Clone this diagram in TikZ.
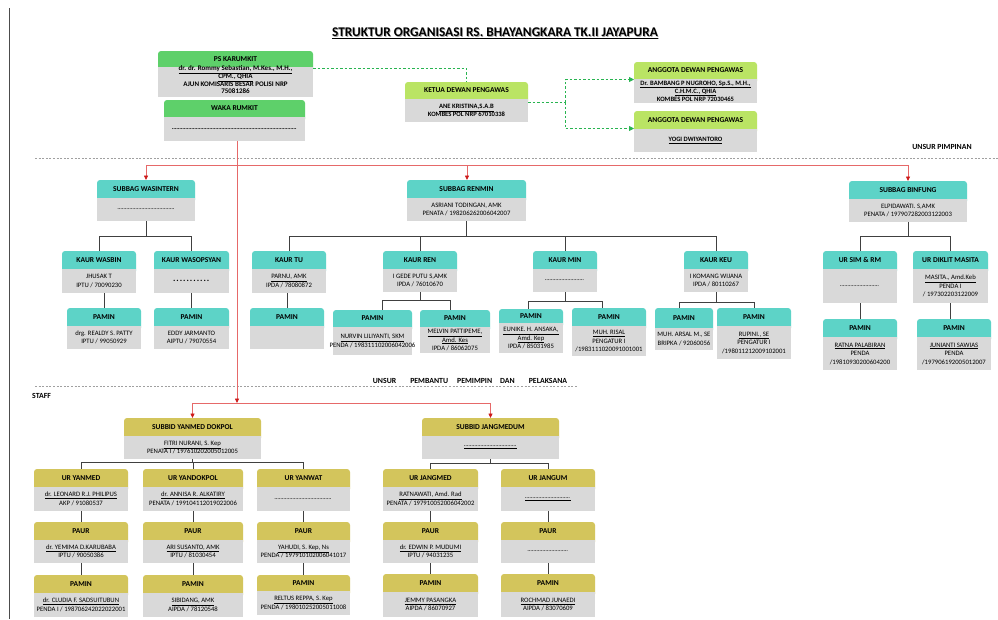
\documentclass[tikz,border=0pt]{standalone}
\usepackage{fontspec}
\setmainfont{Carlito}
\usetikzlibrary{arrows.meta,calc}
\definecolor{greenhdr}{RGB}{94,208,106}
\definecolor{limehdr}{RGB}{186,228,100}
\definecolor{tealhdr}{RGB}{93,211,199}
\definecolor{olivehdr}{RGB}{211,197,92}
\definecolor{bodycol}{RGB}{217,217,217}
\definecolor{conncol}{RGB}{64,64,64}
\definecolor{redcol}{RGB}{230,105,105}
\definecolor{redarr}{RGB}{205,25,25}
\definecolor{gdashcol}{RGB}{40,180,80}
\definecolor{sepcol}{RGB}{160,160,160}
\newcommand\dotsblank[1]{\hbox to #1pt{\leaders\hbox to 1.5pt{\hss.\hss}\hfill}}
\newcommand\bolddots[1]{\hbox to #1pt{\bfseries\fontsize{9}{9}\selectfont\leaders\hbox to 3.4pt{\hss.\hss}\hfill}}
\tikzset{
  boxnode/.style={inner sep=0pt, outer sep=0pt},
  ttl/.style={font=\bfseries\fontsize{7.5}{8}\selectfont, inner sep=0pt},
  bdy/.style={font=\fontsize{6.7}{8.5}\selectfont, align=center, inner sep=0pt},
  conn/.style={draw=conncol, line width=0.9pt},
  redln/.style={draw=redcol, line width=0.8pt, -{Triangle[length=4.5pt,width=4pt,color=redarr]}},
  gdash/.style={draw=gdashcol, line width=0.8pt, dash pattern=on 2.5pt off 2pt},
  garrow/.style={-{Triangle[length=5pt,width=5pt,color=gdashcol]}},
  sepline/.style={draw=sepcol, line width=0.7pt, dash pattern=on 2pt off 1.6pt},
  lbl/.style={font=\bfseries\fontsize{7.8}{9}\selectfont, inner sep=0pt}
}
% name, x, y, width, height, header height, colour, title, body
\newcommand\orgbox[9]{%
  \node[boxnode, minimum width=#4pt, minimum height=#5pt, anchor=north west] (#1) at (#2,#3) {};
  \fill[#7, rounded corners=3pt] (#2,#3) rectangle ({#2+#4},{#3+#6+5});
  \fill[bodycol] (#2,{#3+#6}) rectangle ({#2+#4},{#3+#5});
  \node[ttl] (#1t) at ({#2+#4/2},{#3+#6/2}) {#8};
  \node[bdy] (#1b) at ({#2+#4/2},{#3+(#5+#6)/2}) {#9};
}
\begin{document}
\begin{tikzpicture}[x=1pt,y=-1pt]
\useasboundingbox (0,0) rectangle (998,619);
\fill[white] (0,0) rectangle (998,619);

% left border and separators
\draw[draw=black!70, line width=0.9pt] (9,8) -- (9,619);
\draw[sepline] (35,158) -- (998,158);
\draw[sepline] (35,386) -- (578,386);

% title
\node[font=\bfseries\fontsize{13.3}{15}\selectfont, text=black!35, inner sep=0pt] (titleshadow) at (495.8,33.8) {\underline{STRUKTUR ORGANISASI RS. BHAYANGKARA TK.II JAYAPURA}};
\node[font=\bfseries\fontsize{13.3}{15}\selectfont, inner sep=0pt] (title) at (495,33) {\underline{STRUKTUR ORGANISASI RS. BHAYANGKARA TK.II JAYAPURA}};

\node[lbl] (unsurpimpinan) at (942,147) {UNSUR PIMPINAN};
\node[lbl] (unsurpembantu) at (470,381) {UNSUR\hspace{14pt}PEMBANTU\hspace{9pt}PEMIMPIN\hspace{8pt}DAN\hspace{14pt}PELAKSANA};
\node[lbl, anchor=west] (staff) at (32,396) {STAFF};

% ---------- top boxes ----------
\begin{scope}[bdy/.append style={font=\bfseries\fontsize{6.6}{8}\selectfont}]
\orgbox{ps}{158}{51}{155}{46}{16}{greenhdr}{PS KARUMKIT}{}
\node[bdy, font=\bfseries\fontsize{7}{7.7}\selectfont] (psbody) at (235.5,80) {\underline{dr. dr. Rommy Sebastian, M.Kes., M.H.,}\\\underline{CPM., QHIA}\\AJUN KOMISARIS BESAR POLISI NRP\\75081286};
\orgbox{waka}{164}{100}{141}{41}{17}{greenhdr}{WAKA RUMKIT}{\dotsblank{125}}
\orgbox{ketua}{405}{82}{123}{40}{17}{limehdr}{KETUA DEWAN PENGAWAS}{\underline{ANE KRISTINA,S.A.B}\\KOMBES POL NRP 67010338}
\orgbox{angA}{634}{62}{123}{41}{17}{limehdr}{ANGGOTA DEWAN PENGAWAS}{\underline{Dr. BAMBANG P NUGROHO, Sp.S., M.H.,}\\\underline{C.H.M.C., QHIA}\\KOMBES POL NRP 72030465}
\orgbox{angB}{634}{111}{123}{41}{18}{limehdr}{ANGGOTA DEWAN PENGAWAS}{\underline{YOGI DWIYANTORO}}
\end{scope}

% green dashed links
\draw[gdash] ([yshift=6pt]ps.east) -| (ketua.north);
\coordinate (gj) at (565,102);
\draw[gdash] (ketua.east) -- (gj);
\draw[gdash, garrow] (gj) |- ([yshift=3pt]angA.west);
\draw[gdash, garrow] (gj) |- ([yshift=3pt]angB.west);

% ---------- second level (teal) ----------
\orgbox{wasintern}{97}{180}{98}{41}{18}{tealhdr}{SUBBAG WASINTERN}{\dotsblank{57}}
\orgbox{renmin}{407}{180}{119}{41}{18}{tealhdr}{SUBBAG RENMIN}{ASRIANI TODINGAN, AMK\\PENATA / 198206262006042007}
\orgbox{binfung}{849}{181}{118}{41}{18}{tealhdr}{SUBBAG BINFUNG}{ELPIDAWATI. S,AMK\\PENATA / 197907282003122003}

\orgbox{kwasbin}{62}{251}{74}{42}{18}{tealhdr}{KAUR WASBIN}{JHUSAK T\\IPTU / 70090230}
\orgbox{kwasop}{154}{251}{75}{42}{18}{tealhdr}{KAUR WASOPSYAN}{\bolddots{38}}
\orgbox{ktu}{252}{251}{74}{42}{18}{tealhdr}{KAUR TU}{\underline{PARNU, AMK}\\IPDA / 78080872}
\orgbox{kren}{383}{251}{74}{41}{18}{tealhdr}{KAUR REN}{I GEDE PUTU S,AMK\\IPDA / 76010670}
\orgbox{kmin}{533}{251}{64}{41}{18}{tealhdr}{KAUR MIN}{\dotsblank{40}}
\orgbox{kkeu}{684}{251}{64}{41}{18}{tealhdr}{KAUR KEU}{I KOMANG WIJANA\\IPDA / 80110267}
\orgbox{ursim}{823}{251}{74}{52}{18}{tealhdr}{UR SIM \& RM}{\dotsblank{40}}
\orgbox{urdik}{913}{251}{75}{52}{18}{tealhdr}{UR DIKLIT MASITA}{\underline{MASITA., Amd.Keb}\\PENDA I\\/ 197302203122009}

\orgbox{pwasbin}{67}{308}{74}{41}{18}{tealhdr}{PAMIN}{drg. REALDY S. PATTY\\IPTU / 99050929}
\orgbox{pwasop}{154}{308}{75}{41}{18}{tealhdr}{PAMIN}{EDDY JARMANTO\\AIPTU / 79070554}
\orgbox{ptu}{250}{308}{74}{41}{18}{tealhdr}{PAMIN}{}
\orgbox{pnurvin}{333}{310}{79}{45}{17}{tealhdr}{PAMIN}{\underline{NURVIN LILIYANTI, SKM}\\PENDA / 198311102006042006}
\orgbox{pmelvin}{420}{310}{70}{43}{17}{tealhdr}{PAMIN}{\underline{MELVIN PATTIPEME,}\\\underline{Amd. Kes}\\IPDA / 86062075}
\orgbox{peunike}{499}{309}{64}{44}{14}{tealhdr}{PAMIN}{\underline{EUNIKE. H. ANSAKA,}\\\underline{Amd. Kep}\\IPDA / 85031985}
\orgbox{prisal}{572}{308}{74}{48}{18}{tealhdr}{PAMIN}{\underline{MUH. RISAL}\\PENGATUR I\\/1983111020091001001}
\orgbox{parsal}{655}{308}{58}{42}{20}{tealhdr}{PAMIN}{MUH. ARSAL M., SE\\BRIPKA / 92060056}
\orgbox{prupini}{717}{308}{74}{51}{18}{tealhdr}{PAMIN}{\underline{RUPINI., SE}\\PENGATUR I\\/198011212009102001}
\orgbox{pratna}{823}{319}{74}{51}{18}{tealhdr}{PAMIN}{\underline{RATNA PALABIRAN}\\PENDA\\/19810930200604200}
\orgbox{pjunianti}{917}{319}{74}{51}{18}{tealhdr}{PAMIN}{\underline{JUNIANTI SAWIAS}\\PENDA\\/197906192005012007}

% ---------- staff (olive) ----------
\orgbox{yanmed}{124}{418}{137}{41}{18}{olivehdr}{SUBBID YANMED DOKPOL}{\underline{FITRI NURANI, S. Kep}\\PENATA I / 197610202005012005}
\orgbox{jangmedum}{422}{418}{137}{41}{18}{olivehdr}{SUBBID JANGMEDUM}{\underline{\dotsblank{53}}}

\orgbox{uryanmed}{34}{469}{94}{42}{18}{olivehdr}{UR YANMED}{\underline{dr. LEONARD R.J. PHILIPUS}\\AKP / 91080537}
\orgbox{uryandok}{143}{469}{100}{42}{18}{olivehdr}{UR YANDOKPOL}{\underline{dr. ANNISA R. ALKATIRY}\\PENATA / 199104112019022006}
\orgbox{uryanwat}{257}{469}{93}{42}{18}{olivehdr}{UR YANWAT}{\dotsblank{58}}
\orgbox{urjangmed}{383}{469}{95}{42}{18}{olivehdr}{UR JANGMED}{\underline{RATNAWATI, Amd. Rad}\\PENATA / 197910052006042002}
\orgbox{urjangum}{501}{469}{94}{42}{18}{olivehdr}{UR JANGUM}{\underline{\dotsblank{46}}}

\orgbox{paurA}{34}{522}{94}{41}{18}{olivehdr}{PAUR}{\underline{dr. YEMIMA D.KARUBABA}\\IPTU / 90050386}
\orgbox{paurB}{143}{522}{100}{41}{18}{olivehdr}{PAUR}{\underline{ARI SUSANTO, AMK}\\IPTU / 81030454}
\orgbox{paurC}{257}{522}{93}{41}{18}{olivehdr}{PAUR}{\underline{YAHUDI, S. Kep, Ns}\\PENDA / 197910102006041017}
\orgbox{paurD}{383}{522}{95}{41}{18}{olivehdr}{PAUR}{\underline{dr. EDWIN P. MUDUMI}\\IPTU / 94031235}
\orgbox{paurE}{501}{522}{94}{41}{18}{olivehdr}{PAUR}{\dotsblank{41}}

\orgbox{pmA}{34}{575}{94}{42}{18}{olivehdr}{PAMIN}{\underline{dr. CLUDIA F. SADSUITUBUN}\\PENDA I / 198706242022022001}
\orgbox{pmB}{143}{575}{100}{42}{18}{olivehdr}{PAMIN}{\underline{SIBIDANG, AMK}\\AIPDA / 78120548}
\orgbox{pmC}{257}{575}{93}{40}{16}{olivehdr}{PAMIN}{\underline{RELTUS REPPA, S. Kep}\\PENDA / 198010252005011008}
\orgbox{pmD}{383}{574}{95}{43}{18}{olivehdr}{PAMIN}{\underline{JEMMY PASANGKA}\\AIPDA / 86070927}
\orgbox{pmE}{501}{574}{94}{43}{18}{olivehdr}{PAMIN}{\underline{ROCHMAD JUNAEDI}\\AIPDA / 83070609}

% ---------- connectors ----------
\draw[conn] (wasintern.south) -- ++(0,15) coordinate (bw);
\draw[conn] (bw) -| (kwasbin.north);
\draw[conn] (bw) -| (kwasop.north);
\draw[conn] (pwasbin.north |- kwasbin.south) -- (pwasbin.north);
\draw[conn] (pwasop.north |- kwasop.south) -- (pwasop.north);

\draw[conn] (renmin.south) -- ++(0,15) coordinate (br);
\foreach \c in {ktu,kren,kmin,kkeu} \draw[conn] (br) -| (\c.north);
\draw[conn] (ptu.north |- ktu.south) -- (ptu.north);
\draw[conn] (kren.south) -- ++(0,8) coordinate (bre);
\draw[conn] (bre) -| ([xshift=10pt]pnurvin.north);
\draw[conn] (bre) -| ([xshift=-5pt]pmelvin.north);
\draw[conn] (kmin.south) -- ++(0,9) coordinate (bmi);
\draw[conn] (bmi) -| ([xshift=-3pt]peunike.north);
\draw[conn] (bmi) -| ([xshift=-7pt]prisal.north);
\draw[conn] (kkeu.south) -- ++(0,10) coordinate (bke);
\draw[conn] (bke) -| ([xshift=-5pt]parsal.north);
\draw[conn] (bke) -| (prupini.north);

\draw[conn] (binfung.south) -- ++(0,14) coordinate (bb);
\draw[conn] (bb) -| (ursim.north);
\draw[conn] (bb) -| (urdik.north);
\draw[conn] (pratna.north |- ursim.south) -- (pratna.north);
\draw[conn] (urdik.south) -- (urdik.south |- pjunianti.north);

\draw[conn] (yanmed.south) -- ++(0,3) coordinate (by);
\foreach \c in {uryanmed,uryandok,uryanwat} \draw[conn] (by) -| (\c.north);
\draw[conn] (uryanmed.south) -- (paurA.north);
\draw[conn] (uryandok.south) -- (paurB.north);
\draw[conn] (paurC.north |- uryanwat.south) -- (paurC.north);
\draw[conn] (paurA.south) -- (pmA.north);
\draw[conn] (paurB.south) -- (pmB.north);
\draw[conn] (pmC.north |- paurC.south) -- (pmC.north);

\draw[conn] (jangmedum.south) -- ++(0,4) coordinate (bj);
\draw[conn] (bj) -| (urjangmed.north);
\draw[conn] (bj) -| (urjangum.north);
\draw[conn] (urjangmed.south) -- (paurD.north);
\draw[conn] (urjangum.south) -- (paurE.north);
\draw[conn] (paurD.south) -- (pmD.north);
\draw[conn] (paurE.south) -- (pmE.north);

% ---------- red command lines ----------
\coordinate (ra) at (467,165);
\draw[redln] (ra) -| (wasintern.north);
\draw[redln] (ra) -- (ra |- renmin.north);
\draw[redln] (ra) -| (binfung.north);
\coordinate (rb) at (237,403);
\draw[redln] (rb |- waka.south) -- (rb);
\draw[redln] (rb) -| (yanmed.north);
\draw[redln] (rb) -| (jangmedum.north);
\end{tikzpicture}
\end{document}
